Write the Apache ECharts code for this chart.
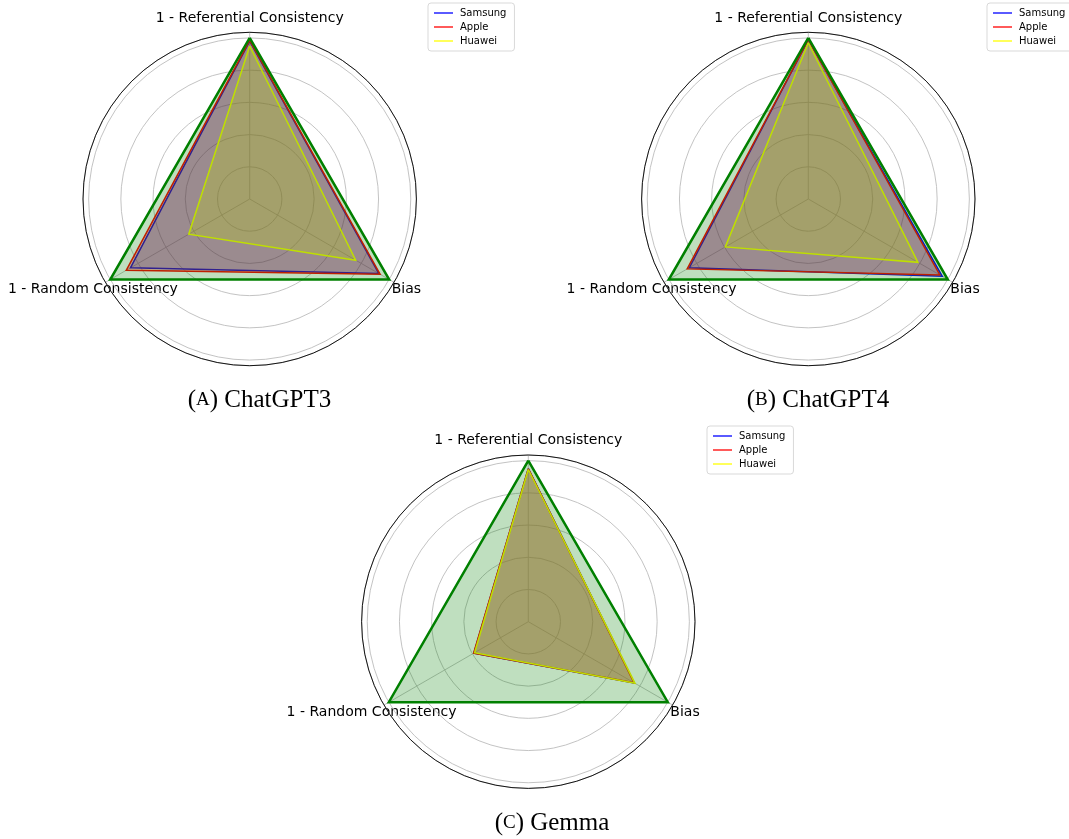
<!DOCTYPE html>
<html>
<head>
<meta charset="utf-8">
<script src="https://cdn.jsdelivr.net/npm/echarts@6/dist/echarts.min.js"></script>
<style>
  html, body { margin: 0; padding: 0; background: #fff; }
  #chart { width: 1069px; height: 839px; }
</style>
</head>
<body>
<div id="chart"></div>
<script>
// axis names (counter-clockwise from the top)
const axisNames = ['1 - Referential Consistency', '1 - Random Consistency', 'Bias']
const brands = ['Samsung', 'Apple', 'Huawei']
const brandColors = ['#0000ff', '#ff0000', '#ffff00']

// values, order follows axisNames
const gpt3Samsung = [0.98, 0.855, 0.926]
const gpt3Apple = [0.985, 0.885, 0.935]
const gpt3Huawei = [0.95, 0.437, 0.76]

const gpt4Samsung = [0.99, 0.853, 0.96]
const gpt4Apple = [0.99, 0.868, 0.943]
const gpt4Huawei = [0.97, 0.595, 0.786]

const gemmaSamsung = [0.95, 0.39, 0.76]
const gemmaApple = [0.95, 0.392, 0.758]
const gemmaHuawei = [0.945, 0.385, 0.765]

// green reference triangle
const ideal = [1, 1, 1]

const rMax = 1.035
const rStep = 0.2

const panels = [
  { prefix: 'A', title: 'ChatGPT3', data: [gpt3Samsung, gpt3Apple, gpt3Huawei], center: [249.7, 199], legend: [428, 3], caption: [259.5, 400] },
  { prefix: 'B', title: 'ChatGPT4', data: [gpt4Samsung, gpt4Apple, gpt4Huawei], center: [808.3, 199], legend: [987, 3], caption: [818, 400] },
  { prefix: 'C', title: 'Gemma', data: [gemmaSamsung, gemmaApple, gemmaHuawei], center: [528.3, 621.7], legend: [707, 426], caption: [552, 823] }
]
const radius = 166.7
const labelR = 181

const chart = echarts.init(document.getElementById('chart'))

const polar = []
const angleAxis = []
const radiusAxis = []
const radar = []
const series = []
const legend = []
const graphic = []

panels.forEach((p, i) => {
  // circular grid like matplotlib polar axes
  polar.push({ center: p.center, radius: radius })
  angleAxis.push({
    polarIndex: i,
    type: 'value',
    min: 0,
    max: 360,
    interval: 120,
    startAngle: 90,
    axisLine: { show: true, lineStyle: { color: '#000', width: 0.9 } },
    axisTick: { show: false },
    axisLabel: { show: false },
    splitLine: { show: true, lineStyle: { color: '#bcbcbc', width: 0.9 } }
  })
  radiusAxis.push({
    polarIndex: i,
    type: 'value',
    min: 0,
    max: rMax,
    interval: rStep,
    axisLine: { show: false },
    axisTick: { show: false },
    axisLabel: { show: false },
    splitLine: { show: true, lineStyle: { color: '#bcbcbc', width: 0.9 } }
  })

  radar.push({
    center: p.center,
    radius: radius,
    startAngle: 90,
    shape: 'circle',
    indicator: axisNames.map(n => ({ name: n, min: 0, max: rMax })),
    axisName: { show: false },
    axisLine: { show: false },
    splitLine: { show: false },
    splitArea: { show: false }
  })

  const items = p.data.map((vals, k) => ({
    name: brands[k],
    value: vals,
    itemStyle: { color: brandColors[k] },
    lineStyle: { color: brandColors[k], width: 1.5, join: 'miter' },
    areaStyle: { color: brandColors[k], opacity: 0.25 }
  }))
  items.push({
    name: 'Ideal',
    value: ideal,
    itemStyle: { color: '#008000' },
    lineStyle: { color: '#008000', width: 2.5, join: 'miter' },
    areaStyle: { color: '#008000', opacity: 0.25 }
  })
  series.push({
    type: 'radar',
    radarIndex: i,
    symbol: 'none',
    silent: true,
    data: items
  })

  legend.push({
    data: brands,
    orient: 'vertical',
    left: p.legend[0],
    top: p.legend[1],
    icon: 'rect',
    itemWidth: 19,
    itemHeight: 1.3,
    itemGap: 4,
    padding: [5, 8, 5, 6],
    backgroundColor: '#fff',
    borderColor: '#d9d9d9',
    borderWidth: 1,
    borderRadius: 3,
    selectedMode: false,
    textStyle: { fontFamily: 'DejaVu Sans', fontSize: 10, color: '#000', padding: [0, 0, 0, 2] }
  })

  // axis labels centred outside the spine, as matplotlib does
  axisNames.forEach((n, k) => {
    const a = (90 + k * 120) * Math.PI / 180
    graphic.push({
      type: 'text',
      x: p.center[0] + labelR * Math.cos(a),
      y: p.center[1] - labelR * Math.sin(a),
      style: {
        text: n,
        fontFamily: 'DejaVu Sans',
        fontSize: 14,
        fill: '#000',
        align: 'center',
        verticalAlign: 'middle'
      }
    })
  })

  graphic.push({
    type: 'text',
    x: p.caption[0],
    y: p.caption[1],
    style: {
      text: '(' + '{sc|' + p.prefix + '}' + ') ' + p.title,
      fontFamily: 'Liberation Serif',
      fontSize: 25,
      fill: '#000',
      align: 'center',
      verticalAlign: 'middle',
      rich: {
        sc: { fontFamily: 'Liberation Serif', fontSize: 19, fill: '#000' }
      }
    }
  })
})

chart.setOption({
  backgroundColor: '#fff',
  animation: false,
  polar: polar,
  angleAxis: angleAxis,
  radiusAxis: radiusAxis,
  radar: radar,
  legend: legend,
  series: series,
  graphic: graphic
})
</script>
</body>
</html>
